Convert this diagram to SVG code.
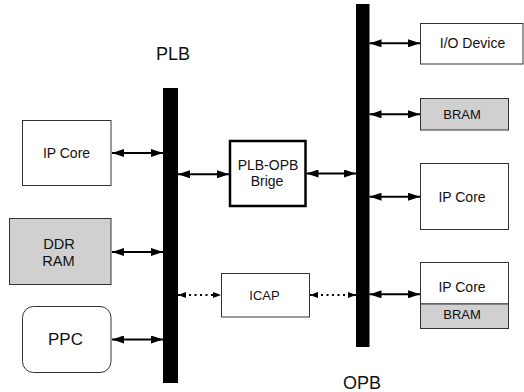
<svg xmlns="http://www.w3.org/2000/svg" width="524" height="392" viewBox="0 0 524 392">
<style>
.box{fill:#fff;stroke:#333;stroke-width:1}
.gray{fill:#d0d0d0;stroke:#333;stroke-width:1}
.bridge{fill:#fff;stroke:#000;stroke-width:2.5}
.bus{fill:#000}
text{font-family:"Liberation Sans",Arial,Helvetica,sans-serif;fill:#111;text-anchor:middle}
.t{font-size:14px}
.big{font-size:18px}
.solid{stroke:#000;stroke-width:2;fill:none;marker-start:url(#ah);marker-end:url(#ah)}
.dot{stroke:#000;stroke-width:2;fill:none;stroke-dasharray:2 3.5;marker-start:url(#ahs);marker-end:url(#ahs)}
</style>
<defs>
<marker id="ah" markerUnits="userSpaceOnUse" markerWidth="12" markerHeight="8" refX="12" refY="4" orient="auto-start-reverse"><path d="M0,0 L12,4 L0,8 z" fill="#000"/></marker>
<marker id="ahs" markerUnits="userSpaceOnUse" markerWidth="8" markerHeight="6" refX="8" refY="3" orient="auto-start-reverse"><path d="M0,0 L8,3 L0,6 z" fill="#000"/></marker>
</defs>
<rect width="524" height="392" fill="#fff"/>

<g id="plb">
<rect class="bus" x="163" y="88" width="15" height="295"/>
<text class="big" x="173" y="60">PLB</text>
</g>
<g id="opb">
<rect class="bus" x="356" y="4" width="13.5" height="343"/>
<text class="big" x="362" y="389">OPB</text>
</g>

<g id="ipcore-left">
<rect class="box" x="22.5" y="120.5" width="88.5" height="65"/>
<text class="t" x="66.5" y="157.5">IP Core</text>
</g>
<g id="ddr-ram">
<rect class="gray" x="9.5" y="218.5" width="101.5" height="66"/>
<text class="t" x="59" y="248.5" style="font-size:14.6px">DDR</text>
<text class="t" x="58.5" y="265.8" style="font-size:14.6px">RAM</text>
</g>
<g id="ppc">
<rect class="box" x="22.5" y="306.5" width="88.5" height="66" rx="11" ry="11"/>
<text x="65.5" y="345" style="font-size:17px">PPC</text>
</g>

<g id="plb-opb-bridge">
<rect class="bridge" x="230" y="141" width="75.5" height="65"/>
<text class="t" x="268" y="169.5">PLB-OPB</text>
<text class="t" x="267" y="185.5">Brige</text>
</g>
<g id="icap">
<rect class="box" x="221.5" y="273.5" width="88" height="43.5"/>
<text class="t" x="264.5" y="299.5" style="font-size:13px">ICAP</text>
</g>

<g id="io-device">
<rect class="box" x="420.5" y="23.5" width="102.5" height="40.5"/>
<text class="t" x="472.5" y="47.5">I/O Device</text>
</g>
<g id="bram-top">
<rect class="gray" x="420.5" y="98.5" width="88" height="31.5"/>
<text class="t" x="462" y="118.5" style="font-size:13px">BRAM</text>
</g>
<g id="ipcore-right">
<rect class="box" x="420.5" y="163.5" width="88" height="66"/>
<text class="t" x="462" y="201.8">IP Core</text>
</g>
<g id="ipcore-bram">
<rect class="box" x="420.5" y="262.5" width="88" height="41.5"/>
<rect class="gray" x="420.5" y="304" width="88" height="24.5"/>
<text class="t" x="462" y="291.8">IP Core</text>
<text class="t" x="462" y="319.2" style="font-size:13px">BRAM</text>
</g>

<g id="connectors">
<line class="solid" x1="112" y1="153" x2="163" y2="153"/>
<line class="solid" x1="112" y1="252" x2="163" y2="252"/>
<line class="solid" x1="112" y1="339.5" x2="163" y2="339.5"/>
<line class="solid" x1="178" y1="174.3" x2="229" y2="174.3"/>
<line class="solid" x1="306.5" y1="173.5" x2="356" y2="173.5"/>
<line class="dot" x1="178" y1="295" x2="221" y2="295"/>
<line class="dot" x1="310" y1="295" x2="356" y2="295"/>
<line class="solid" x1="369.5" y1="43.3" x2="420" y2="43.3"/>
<line class="solid" x1="369.5" y1="114.3" x2="420" y2="114.3"/>
<line class="solid" x1="369.5" y1="196.7" x2="420" y2="196.7"/>
<line class="solid" x1="369.5" y1="294.3" x2="420" y2="294.3"/>
</g>
</svg>
